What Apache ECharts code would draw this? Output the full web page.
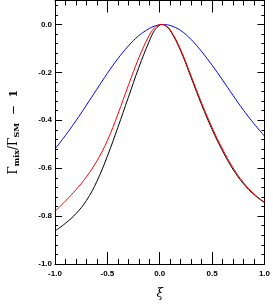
<!DOCTYPE html>
<html>
<head>
<meta charset="utf-8">
<script src="https://cdn.jsdelivr.net/npm/echarts@6/dist/echarts.min.js"></script>
<style>html,body{margin:0;padding:0;background:#fff}#c{width:273px;height:305px}</style>
</head>
<body>
<div id="c"></div>
<script>
const xi    = [-1.0,-0.9,-0.8,-0.7,-0.6,-0.5,-0.4,-0.3,-0.2,-0.1,-0.05,0.0,0.02,0.05,0.1,0.2,0.3,0.4,0.5,0.6,0.7,0.8,0.9,1.0];
const blue  = [-0.52,-0.463,-0.402,-0.337,-0.27,-0.204,-0.143,-0.09,-0.047,-0.017,-0.007,-0.001,0.0,-0.001,-0.004,-0.025,-0.063,-0.113,-0.17,-0.232,-0.296,-0.358,-0.414,-0.466];
const red   = [-0.78,-0.737,-0.69,-0.636,-0.57,-0.485,-0.375,-0.255,-0.14,-0.045,-0.014,-0.001,0.0,-0.003,-0.022,-0.105,-0.215,-0.327,-0.43,-0.52,-0.598,-0.66,-0.707,-0.742];
const black = [-0.862,-0.83,-0.79,-0.735,-0.655,-0.55,-0.43,-0.305,-0.18,-0.07,-0.025,-0.003,0.0,-0.004,-0.025,-0.11,-0.222,-0.335,-0.438,-0.528,-0.605,-0.665,-0.71,-0.744];
const xTicks = [-1.0,-0.5,0.0,0.5,1.0];
const yTicks = [-1.0,-0.8,-0.6,-0.4,-0.2,0.0];

const chart = echarts.init(document.getElementById('c'), null, {renderer:'canvas'});
const lineC = {color:'#000',width:1};
const labFont = {fontFamily:'Liberation Sans, Arial', fontSize:8, fontWeight:'bold', color:'#000'};
function yFmt(v){ return yTicks.some(t=>Math.abs(t-v)<1e-9) ? v.toFixed(1) : ''; }
function xFmt(v){ return xTicks.some(t=>Math.abs(t-v)<1e-9) ? v.toFixed(1) : ''; }
const yBase = {type:'value', min:-1, max:0.1, splitLine:{show:false}, axisLine:{show:true, onZero:false, lineStyle:lineC}};
const xBase = {type:'value', min:-1, max:1, interval:0.5, splitLine:{show:false}, axisLine:{show:true, onZero:false, lineStyle:lineC}};
function mk(x,y){ return x.map((v,i)=>[v,y[i]]); }
chart.setOption({
  animation:false,
  grid:{left:47, right:5, top:0.5, bottom:39},
  xAxis:[
    Object.assign({}, xBase, {position:'bottom',
      name:'ξ', nameLocation:'middle', nameGap:24,
      nameTextStyle:{fontFamily:'DejaVu Serif, Liberation Serif', fontStyle:'italic', fontSize:12, color:'#000'},
      axisTick:{show:true, inside:true, length:12, lineStyle:lineC},
      minorTick:{show:true, splitNumber:5, length:5, lineStyle:lineC},
      axisLabel:Object.assign({margin:6, formatter:xFmt, showMinLabel:true, showMaxLabel:true}, labFont)}),
    Object.assign({}, xBase, {position:'top',
      axisTick:{show:true, inside:true, length:12, lineStyle:lineC},
      minorTick:{show:true, splitNumber:5, length:5, lineStyle:lineC},
      axisLabel:{show:false}})
  ],
  yAxis:[
    Object.assign({}, yBase, {position:'left', interval:0.2,
      name:'{g|Γ}{s|mix}{g|/Γ}{s|SM}{g|  −  }{b|1}', nameLocation:'middle', nameGap:34,
      nameTextStyle:{color:'#000', rich:{
        g:{fontFamily:'DejaVu Serif, Liberation Serif', fontSize:12, color:'#000', lineHeight:14},
        s:{fontFamily:'DejaVu Serif, Liberation Serif', fontSize:8, fontWeight:'bold', color:'#000', verticalAlign:'bottom', padding:[4,0,0,0]},
        b:{fontFamily:'DejaVu Serif, Liberation Serif', fontSize:11, fontWeight:'bold', color:'#000'}
      }},
      axisTick:{show:true, inside:true, length:7, lineStyle:lineC},
      axisLabel:Object.assign({margin:3, formatter:yFmt}, labFont)}),
    Object.assign({}, yBase, {position:'left', interval:0.04,
      axisTick:{show:true, inside:true, length:3, lineStyle:lineC},
      axisLabel:{show:false}}),
    Object.assign({}, yBase, {position:'right', interval:0.2,
      axisTick:{show:true, inside:true, length:7, lineStyle:lineC},
      axisLabel:{show:false}}),
    Object.assign({}, yBase, {position:'right', interval:0.04,
      axisTick:{show:true, inside:true, length:3, lineStyle:lineC},
      axisLabel:{show:false}})
  ],
  series:[
    {type:'line', data:mk(xi,blue), smooth:0.4, showSymbol:false, lineStyle:{color:'#0000ff', width:1}, xAxisIndex:0, yAxisIndex:0},
    {type:'line', data:mk(xi,black), smooth:0.4, showSymbol:false, lineStyle:{color:'#000000', width:1}, xAxisIndex:0, yAxisIndex:0},
    {type:'line', data:mk(xi,red), smooth:0.4, showSymbol:false, lineStyle:{color:'#ff0000', width:1}, xAxisIndex:0, yAxisIndex:0}
  ]
});
</script>
</body>
</html>
